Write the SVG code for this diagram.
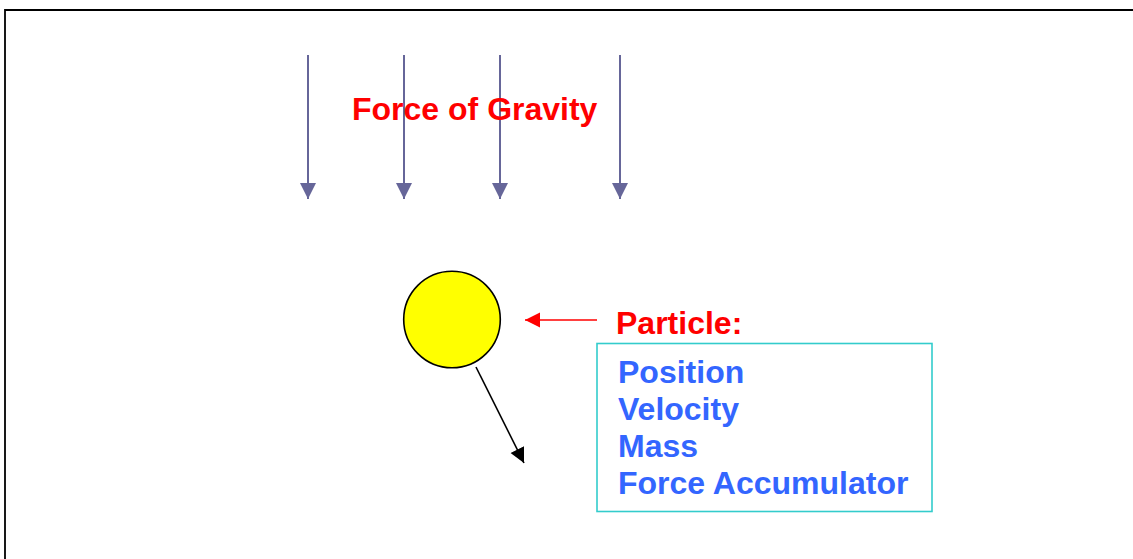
<svg xmlns="http://www.w3.org/2000/svg" width="1133" height="559" viewBox="0 0 1133 559">
<style>
.lbl{font-family:"Liberation Sans",Arial,sans-serif;font-weight:bold;font-size:32px}
.red{fill:#FF0000}
.blue{fill:#3366FF}
.grav{stroke:#666699;stroke-width:2;fill:none}
</style>
<defs>
<marker id="mg" markerUnits="userSpaceOnUse" markerWidth="17" markerHeight="17" refX="16" refY="8" orient="auto"><path d="M0,0 L16,8 L0,16 Z" fill="#666699"/></marker>
<marker id="mr" markerUnits="userSpaceOnUse" markerWidth="16" markerHeight="16" refX="15" refY="7.5" orient="auto"><path d="M0,0 L15,7.5 L0,15 Z" fill="#FF0000"/></marker>
<marker id="mb" markerUnits="userSpaceOnUse" markerWidth="16" markerHeight="16" refX="15" refY="7.5" orient="auto"><path d="M0,0 L15,7.5 L0,15 Z" fill="#000"/></marker>
</defs>
<rect width="1133" height="559" fill="#fff"/>
<path d="M5,559 V10 H1133" fill="none" stroke="#000" stroke-width="1.8"/>
<g id="connectors">
<line class="grav" x1="308" y1="55" x2="308" y2="199" marker-end="url(#mg)"/>
<line class="grav" x1="404" y1="55" x2="404" y2="199" marker-end="url(#mg)"/>
<line class="grav" x1="500" y1="55" x2="500" y2="199" marker-end="url(#mg)"/>
<line class="grav" x1="620" y1="55" x2="620" y2="199" marker-end="url(#mg)"/>
<line x1="597" y1="320" x2="525" y2="320" stroke="#FF0000" stroke-width="1.6" marker-end="url(#mr)"/>
<line x1="476" y1="367" x2="524" y2="463" stroke="#000" stroke-width="1.6" marker-end="url(#mb)"/>
</g>
<g id="gravity-label"><text class="lbl red" x="352" y="120">Force of Gravity</text></g>
<g id="particle"><circle cx="452" cy="319.5" r="48.3" fill="#FFFF00" stroke="#000" stroke-width="1.6"/></g>
<g id="particle-label"><text class="lbl red" x="616" y="334">Particle:</text></g>
<g id="attributes">
<rect x="597" y="343.5" width="335" height="168" fill="none" stroke="#33CCCC" stroke-width="1.6"/>
<text class="lbl blue" x="618" y="383">Position</text>
<text class="lbl blue" x="618" y="420">Velocity</text>
<text class="lbl blue" x="618" y="457">Mass</text>
<text class="lbl blue" x="618" y="494">Force Accumulator</text>
</g>
</svg>
